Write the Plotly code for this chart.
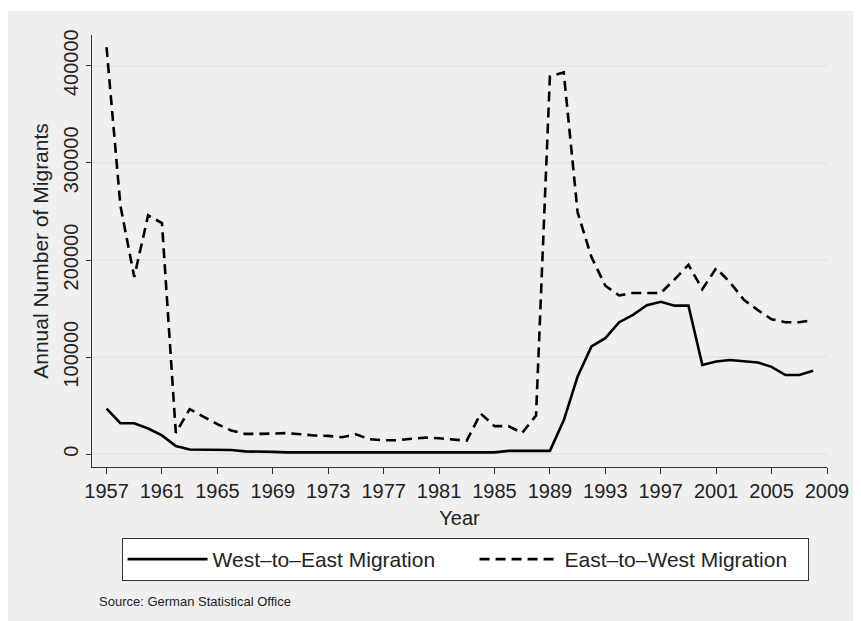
import plotly.graph_objects as go

years = list(range(1957, 2009))

west_to_east = [
    47000, 32000, 32000, 26500, 19500, 8500, 5000, 5000, 5000, 4500,
    3000, 3000, 2500, 2000, 2000, 2000, 2000, 2000, 2000, 2000,
    2000, 2000, 2000, 2000, 2000, 2000, 2000, 2000, 2000, 3500,
    3500, 3500, 3500, 35000, 80000, 111000, 119500, 136000, 143500, 153500,
    157000, 153000, 153000, 92000, 95500, 97000, 96000, 94500, 90000, 81600,
    81600, 86000,
]

east_to_west = [
    419000, 256000, 182500, 246000, 238000, 22000, 46500, 38500, 31000, 24500,
    21000, 21000, 21500, 21800, 20700, 19300, 19000, 17500, 20500, 15500,
    14500, 14500, 16000, 17200, 16500, 15000, 14000, 42000, 29000, 29000,
    22000, 40000, 389000, 393000, 249000, 203000, 173500, 163500, 166000, 166000,
    166000, 180000, 195000, 170000, 191500, 177000, 159000, 148500, 139000, 136000,
    136000, 138000,
]

x_ticks = list(range(1957, 2010, 4))
y_ticks = [0, 100000, 200000, 300000, 400000]

FONT = "Liberation Sans, Arial, sans-serif"

fig = go.Figure()
fig.add_trace(go.Scatter(
    x=years, y=west_to_east, mode="lines", name="West\u2013to\u2013East Migration",
    line=dict(color="black", width=2.6), legendwidth=257,
))
fig.add_trace(go.Scatter(
    x=years, y=east_to_west, mode="lines", name="East\u2013to\u2013West Migration",
    line=dict(color="black", width=2.6, dash="10px,6px"), legendwidth=238,
))

# page body has an 8px margin: figure coordinates = page coordinates - 8
OFF = 8
L, R, T, B = 92 - OFF, 838 - OFF, 35 - OFF, 467 - OFF
W, H = 861 - OFF, 621 - OFF
pw, ph = R - L, B - T

def px_x(p):
    return (p - OFF - L) / pw

def px_y(p):
    return (B - (p - OFF)) / ph

fig.add_shape(type="rect", xref="paper", yref="paper",
              x0=px_x(5), x1=px_x(870), y0=px_y(640), y1=px_y(11),
              fillcolor="#EFEFEF", line=dict(width=0), layer="below")

fig.update_layout(
    width=W, height=H,
    margin=dict(l=L, r=W - R, t=T, b=H - B),
    paper_bgcolor="white",
    plot_bgcolor="white",
    font=dict(family=FONT, size=20, color="#222"),
    showlegend=True,
    legend=dict(
        orientation="h",
        x=px_x(122), xanchor="left",
        y=px_y(538), yanchor="top",
        bgcolor="white", bordercolor="#333", borderwidth=1,
        itemwidth=80,
        font=dict(family=FONT, size=21, color="#222"),
    ),
    xaxis=dict(
        range=[1955.95, 2009],
        tickmode="array", tickvals=x_ticks, ticktext=[str(v) for v in x_ticks],
        ticks="outside", ticklen=6, tickcolor="#333",
        showline=True, linecolor="#333", linewidth=1,
        showgrid=False, zeroline=False,
        tickfont=dict(size=20),
        title=dict(text="Year", font=dict(size=20), standoff=9),
    ),
    yaxis=dict(
        range=[-13070, 431600],
        tickmode="array", tickvals=y_ticks, ticktext=[str(v) for v in y_ticks],
        ticks="outside", ticklen=5, tickcolor="#333", tickangle=-90,
        showline=True, linecolor="#333", linewidth=1,
        showgrid=True, gridcolor="#E6E6E6", gridwidth=1.5,
        zeroline=False,
        tickfont=dict(size=20),
        title=dict(text="Annual Number of Migrants", font=dict(size=21), standoff=5),
    ),
    annotations=[
        dict(text="Source: German Statistical Office", xref="paper", yref="paper",
             x=px_x(97), y=px_y(601), xanchor="left", yanchor="middle",
             showarrow=False, font=dict(family=FONT, size=13, color="#222")),
    ],
)

fig.write_html("out.html")
